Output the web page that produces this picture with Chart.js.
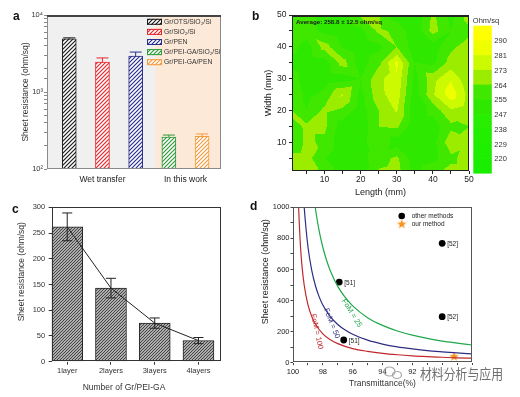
<!DOCTYPE html>
<html>
<head>
<meta charset="utf-8">
<title>Sheet resistance of Gr/PEI-GA films</title>
<script src="https://cdn.jsdelivr.net/npm/chart.js@4.4.1/dist/chart.umd.min.js"></script>
<style>
  html, body { margin: 0; padding: 0; background: #fff; }
  #fig { position: relative; width: 520px; height: 397px; overflow: hidden; background: #fff; }
  #fig canvas { position: absolute; }
  .tag { position: absolute; font: bold 12px "Liberation Sans", Arial, sans-serif; line-height: 12px; color: #111; }
</style>
</head>
<body>
<div id="fig">
  <canvas id="ca" width="260" height="195" style="left:0;top:0"></canvas>
  <canvas id="cb" width="260" height="200" style="left:260px;top:0"></canvas>
  <canvas id="cc" width="260" height="202" style="left:0;top:195px"></canvas>
  <canvas id="cd" width="260" height="202" style="left:260px;top:195px"></canvas>
  <div class="tag" style="left:13px;top:10px">a</div>
  <div class="tag" style="left:252px;top:10px">b</div>
  <div class="tag" style="left:12px;top:203px">c</div>
  <div class="tag" style="left:250px;top:200px">d</div>
</div>
<script>
// ---- data ----
// a: sheet resistance by substrate (log scale)
const aGroups = ['Wet transfer', 'In this work'];
const aLabels = ['Gr/OTS/SiO₂/Si', 'Gr/SiO₂/Si', 'Gr/PEN', 'Gr/PEI-GA/SiO₂/Si', 'Gr/PEI-GA/PEN'];
const aValues = [4900, 2450, 2930, 260, 265];
const aErrors = [150, 320, 370, 16, 20];

// b: sheet resistance map, grid in mm, rows from width 0 to 50
const bX = [0, 5, 10, 15, 20, 25, 30, 35, 40, 45, 50];
const bY = [0, 5, 10, 15, 20, 25, 30, 35, 40, 45, 50];
const bZ = [
  [268, 268, 262, 250, 250, 266, 268, 252, 262, 268, 268],
  [268, 268, 255, 248, 252, 260, 266, 250, 252, 262, 268],
  [255, 266, 262, 248, 250, 264, 250, 248, 252, 270, 266],
  [258, 266, 266, 250, 248, 264, 266, 248, 250, 262, 264],
  [266, 255, 266, 262, 250, 264, 274, 248, 258, 272, 268],
  [268, 252, 258, 274, 252, 270, 278, 250, 272, 286, 270],
  [262, 250, 248, 250, 255, 270, 280, 252, 270, 280, 266],
  [250, 248, 250, 268, 250, 262, 283, 255, 252, 268, 268],
  [260, 250, 268, 254, 248, 252, 264, 250, 250, 262, 268],
  [265, 260, 252, 248, 252, 266, 262, 248, 268, 255, 262],
  [262, 262, 250, 248, 266, 265, 250, 248, 266, 252, 268]
];
const bLevels = [220, 229, 238, 247, 255, 264, 273, 281, 290];

// c: resistance vs number of layers
const cLabels = ['1layer', '2layers', '3layers', '4layers'];
const cValues = [262, 143, 75, 41];
const cErrors = [27, 19, 10, 6];

// d: sheet resistance vs transmittance
const fom100T = [99.65, 99.62, 99.5, 99.4, 99.25, 99.0, 98.75, 98.5, 98.0, 97.5, 97.0, 96.0, 95.0, 94.0, 93.0, 92.0, 91.0, 90.0, 89.0, 88.0];
const fom100R = [1074, 990, 751, 625, 500, 374, 299, 249, 186, 148, 123, 91, 73, 60, 51, 44, 39, 35, 31, 29];
const fom50T = [99.3, 99.25, 99.0, 98.75, 98.5, 98.25, 98.0, 97.5, 97.0, 96.5, 96.0, 95.0, 94.0, 93.0, 92.0, 91.0, 90.0, 89.0, 88.0];
const fom50R = [1072, 1000, 748, 598, 497, 425, 371, 296, 246, 210, 183, 145, 120, 102, 89, 78, 70, 63, 57];
const fom25T = [98.55, 98.5, 98.25, 98.0, 97.75, 97.5, 97.0, 96.5, 96.0, 95.0, 94.0, 93.0, 92.0, 91.0, 90.0, 89.0, 88.0];
const fom25R = [1029, 994, 850, 743, 659, 592, 491, 420, 366, 290, 240, 204, 177, 156, 139, 126, 114];
const otherT = [96.9, 96.6, 90.0, 90.0];
const otherR = [519, 146, 768, 296];
const otherRef = ['[51]', '[51]', '[52]', '[52]'];
const oursT = [89.2];
const oursR = [39];

// ---- styles / helpers ----
const FONT = '"Liberation Sans", Arial, Helvetica, sans-serif';
Chart.defaults.font.family = FONT;
Chart.defaults.color = '#222';
Chart.defaults.animation = false;
Chart.defaults.responsive = false;
Chart.defaults.plugins.legend.display = false;
Chart.defaults.plugins.tooltip.enabled = false;

const aColors = ['#1a1a1a', '#e5262a', '#2a2e8e', '#2e9b3a', '#f59a3c'];
const bColors = [[26,238,0],[30,238,0],[34,238,0],[40,238,0],[46,232,0],[64,232,0],[156,236,0],[204,250,0],[238,255,0],[255,255,0]];
const dRed = '#c0282e', dBlue = '#2d2e83', dGreen = '#1fa84a';

const patCtx = document.createElement('canvas').getContext('2d');
function hatch(color, size, lw) {
  const c = document.createElement('canvas');
  c.width = c.height = size;
  const g = c.getContext('2d');
  g.fillStyle = '#fff';
  g.fillRect(0, 0, size, size);
  g.strokeStyle = color;
  g.lineWidth = lw;
  g.beginPath();
  g.moveTo(0, size); g.lineTo(size, 0);
  g.moveTo(-size / 2, size / 2); g.lineTo(size / 2, -size / 2);
  g.moveTo(size / 2, size * 1.5); g.lineTo(size * 1.5, size / 2);
  g.stroke();
  return patCtx.createPattern(c, 'repeat');
}

function starImage(r, color) {
  const s = Math.ceil(r * 2) + 2;
  const c = document.createElement('canvas');
  c.width = c.height = s;
  const g = c.getContext('2d');
  g.fillStyle = color;
  g.beginPath();
  for (let k = 0; k < 10; k++) {
    const rr = k % 2 ? r * 0.42 : r;
    const ang = -Math.PI / 2 + k * Math.PI / 5;
    g.lineTo(s / 2 + rr * Math.cos(ang), s / 2 + rr * Math.sin(ang));
  }
  g.closePath();
  g.fill();
  return c;
}
const star = starImage(5, '#f7931e');

function makeFrame(color, topColor) {
  return {
    id: 'frame',
    afterDraw(chart) {
      const {ctx, chartArea: a} = chart;
      ctx.save();
      ctx.strokeStyle = color;
      ctx.lineWidth = 1;
      ctx.strokeRect(Math.round(a.left) + 0.5, Math.round(a.top) + 0.5,
                     Math.round(a.right - a.left) - 1, Math.round(a.bottom - a.top) - 1);
      if (topColor) {
        ctx.strokeStyle = topColor;
        ctx.lineWidth = 2;
        ctx.beginPath();
        ctx.moveTo(a.left, Math.round(a.top) + 1);
        ctx.lineTo(a.right, Math.round(a.top) + 1);
        ctx.stroke();
      }
      ctx.restore();
    }
  };
}

function makeErrorBars(cap, lower, color) {
  return {
    id: 'errorBars',
    afterDatasetsDraw(chart) {
      const {ctx} = chart, ys = chart.scales.y;
      chart.data.datasets.forEach((ds, di) => {
        if (!ds.errors) return;
        chart.getDatasetMeta(di).data.forEach((el, i) => {
          const v = ds.data[i].y, e = ds.errors[i];
          const top = ys.getPixelForValue(v + e);
          const bot = ys.getPixelForValue(lower ? v - e : v);
          ctx.save();
          ctx.strokeStyle = color || ds.borderColor[i];
          ctx.lineWidth = 1;
          ctx.beginPath();
          ctx.moveTo(el.x, top); ctx.lineTo(el.x, bot);
          ctx.moveTo(el.x - cap / 2, top); ctx.lineTo(el.x + cap / 2, top);
          if (lower) { ctx.moveTo(el.x - cap / 2, bot); ctx.lineTo(el.x + cap / 2, bot); }
          ctx.stroke();
          ctx.restore();
        });
      });
    }
  };
}

function makeTexts(items) {
  return {
    id: 'texts',
    afterDraw(chart) {
      const ctx = chart.ctx;
      items.forEach(t => {
        ctx.save();
        ctx.translate(t.x, t.y);
        ctx.rotate((t.rot || 0) * Math.PI / 180);
        ctx.font = t.font;
        ctx.fillStyle = t.color || '#222';
        ctx.textAlign = t.align || 'center';
        ctx.textBaseline = 'middle';
        ctx.fillText(t.text, 0, 0);
        ctx.restore();
      });
    }
  };
}

const tickMarks = (color, len) => ({ display: true, drawOnChartArea: false, drawTicks: true, tickLength: len, color: color, offset: false });

// ---- a ----
const aBackground = {
  id: 'aBackground',
  beforeDatasetsDraw(chart) {
    const {ctx, chartArea: a, scales: {x}} = chart;
    const split = x.getPixelForValue(3.58);
    ctx.save();
    ctx.fillStyle = '#f0f0f0';
    ctx.fillRect(a.left, a.top, split - a.left, a.bottom - a.top);
    ctx.fillStyle = '#fde9d8';
    ctx.fillRect(split, a.top, a.right - split, a.bottom - a.top);
    ctx.restore();
  }
};
const aLegend = {
  id: 'aLegend',
  afterDatasetsDraw(chart) {
    const {ctx, chartArea: a} = chart;
    const ds = chart.data.datasets[0];
    ctx.save();
    ctx.font = '6.8px ' + FONT;
    ctx.textBaseline = 'middle';
    aLabels.forEach((lab, i) => {
      const y = a.top + 6.8 + i * 10.1;
      const x = a.right - 74;
      ctx.fillStyle = ds.backgroundColor[i];
      ctx.fillRect(x, y - 3, 15, 6);
      ctx.strokeStyle = ds.borderColor[i];
      ctx.lineWidth = 1;
      ctx.strokeRect(x + 0.5, y - 2.5, 14, 5);
      ctx.fillStyle = '#333';
      ctx.fillText(lab, x + 17, y);
    });
    ctx.restore();
  }
};
const supers = {2: '²', 3: '³', 4: '⁴'};
new Chart(document.getElementById('ca'), {
  type: 'bar',
  data: {
    datasets: [{
      data: aValues.map((v, i) => ({x: i + 1, y: v})),
      backgroundColor: aColors.map(c => hatch(c, 4, 1.2)),
      borderColor: aColors,
      borderWidth: 1,
      barThickness: 14,
      errors: aErrors
    }]
  },
  options: {
    layout: {padding: {left: 0, top: 15, right: 39, bottom: 0}},
    scales: {
      x: {
        type: 'linear', min: 0.33, max: 5.57, offset: false,
        afterFit: s => { s.height = 26; },
        afterBuildTicks: s => { s.ticks = [{value: 2}, {value: 4.5}]; },
        ticks: {callback: (v, i) => aGroups[i], font: {size: 8.5}, padding: 6, autoSkip: false, maxRotation: 0, color: '#222'},
        grid: {display: false, drawTicks: false}, border: {display: false}
      },
      y: {
        type: 'logarithmic', min: 100, max: 10000,
        afterFit: s => { s.width = 47; },
        ticks: {
          autoSkip: false, font: {size: 7.5}, padding: 1, color: '#333',
          callback: v => {
            const p = Math.log10(v);
            return Math.abs(p - Math.round(p)) < 1e-6 ? '10' + supers[Math.round(p)] : '';
          }
        },
        grid: tickMarks('#888', 3), border: {display: false},
        title: {display: true, text: 'Sheet resistance (ohm/sq)', font: {size: 8.5}, color: '#333', padding: {top: 21, bottom: 0}}
      }
    }
  },
  plugins: [aBackground, makeErrorBars(12, false), aLegend, makeFrame('#8a8a8a', '#444')]
});

// ---- b ----
function sampleGrid(vx, vy) {
  let i = 0, j = 0;
  while (i < bX.length - 2 && vx > bX[i + 1]) i++;
  while (j < bY.length - 2 && vy > bY[j + 1]) j++;
  const fx = (vx - bX[i]) / (bX[i + 1] - bX[i]);
  const fy = (vy - bY[j]) / (bY[j + 1] - bY[j]);
  const z00 = bZ[j][i], z10 = bZ[j][i + 1], z01 = bZ[j + 1][i], z11 = bZ[j + 1][i + 1];
  if ((i + j) % 2 === 0) {
    if (fx >= fy) return z00 + fx * (z10 - z00) + fy * (z11 - z10);
    return z00 + fy * (z01 - z00) + fx * (z11 - z01);
  }
  if (fx + fy <= 1) return z00 + fx * (z10 - z00) + fy * (z01 - z00);
  return z11 + (1 - fx) * (z01 - z11) + (1 - fy) * (z10 - z11);
}
const contour = {
  id: 'contour',
  beforeDatasetsDraw(chart) {
    const {ctx, chartArea: a, scales: {x, y}} = chart;
    const w = Math.round(a.right - a.left), h = Math.round(a.bottom - a.top);
    const off = document.createElement('canvas');
    off.width = w; off.height = h;
    const g = off.getContext('2d');
    const img = g.createImageData(w, h);
    for (let py = 0; py < h; py++) {
      const vy = y.getValueForPixel(a.top + py + 0.5);
      for (let px = 0; px < w; px++) {
        const vx = x.getValueForPixel(a.left + px + 0.5);
        const v = sampleGrid(vx, vy);
        let band = 0;
        while (band < bLevels.length && v >= bLevels[band]) band++;
        const c = bColors[band], k = (py * w + px) * 4;
        img.data[k] = c[0]; img.data[k + 1] = c[1]; img.data[k + 2] = c[2]; img.data[k + 3] = 255;
      }
    }
    g.putImageData(img, 0, 0);
    ctx.drawImage(off, a.left, a.top);
  }
};
const colorBar = {
  id: 'colorBar',
  afterDraw(chart) {
    const {ctx, chartArea: a} = chart;
    const x0 = a.right + 4.3, w = 18.5, top = a.top + 10.7, h = 147.3, n = bColors.length;
    ctx.save();
    for (let k = 0; k < n; k++) {
      const c = bColors[n - 1 - k];
      ctx.fillStyle = 'rgb(' + c.join(',') + ')';
      ctx.fillRect(x0, top + k * h / n, w, h / n + 0.6);
    }
    ctx.font = '7.5px ' + FONT;
    ctx.fillStyle = '#333';
    ctx.textBaseline = 'middle';
    for (let k = 0; k < bLevels.length; k++) {
      ctx.fillText(String(bLevels[bLevels.length - 1 - k]), x0 + 21, top + (k + 1) * h / n + 1);
    }
    ctx.fillText('Ohm/sq', x0 - 0.5, a.top + 6);
    ctx.restore();
  }
};
new Chart(document.getElementById('cb'), {
  type: 'scatter',
  data: {
    datasets: [{
      data: bY.flatMap((yv, j) => bX.map((xv, i) => ({x: xv, y: yv, v: bZ[j][i]}))),
      pointRadius: 0
    }]
  },
  options: {
    layout: {padding: {left: 0, top: 15, right: 51, bottom: 0}},
    scales: {
      x: {
        type: 'linear', min: 1, max: 50,
        afterFit: s => { s.height = 29; },
        afterBuildTicks: s => { s.ticks = [5, 10, 15, 20, 25, 30, 35, 40, 45, 50].map(v => ({value: v})); },
        ticks: {callback: v => (v % 10 === 0 ? v : ''), font: {size: 8.5}, padding: 1, autoSkip: false, maxRotation: 0, color: '#222'},
        grid: tickMarks('#222', 3), border: {display: false},
        title: {display: true, text: 'Length (mm)', font: {size: 9}, padding: {top: 0, bottom: 2}}
      },
      y: {
        type: 'linear', min: 1, max: 50,
        afterFit: s => { s.width = 32; },
        afterBuildTicks: s => { s.ticks = [5, 10, 15, 20, 25, 30, 35, 40, 45, 50].map(v => ({value: v})); },
        ticks: {callback: v => (v % 10 === 0 ? v : ''), font: {size: 8.5}, padding: 2.5, autoSkip: false, color: '#222'},
        grid: tickMarks('#222', 3), border: {display: false},
        title: {display: true, text: 'Width (mm)', font: {size: 9}, padding: {top: 3.5, bottom: 0}}
      }
    }
  },
  plugins: [contour, makeTexts([{text: 'Average: 258.8 ± 12.5 ohm/sq', x: 36, y: 22.5, font: 'bold 6.2px ' + FONT, align: 'left', color: '#1a1a1a'}]),
            makeFrame('#222', '#222'), colorBar]
});

// ---- c ----
const cPoints = cValues.map((v, i) => ({x: i, y: v}));
new Chart(document.getElementById('cc'), {
  type: 'bar',
  data: {
    datasets: [
      {type: 'line', data: cPoints, borderColor: '#222', borderWidth: 1, pointRadius: 0, order: 0},
      {type: 'bar', data: cPoints, backgroundColor: hatch('#444', 3, 1.25), borderColor: '#222', borderWidth: 1, barThickness: 31, errors: cErrors, order: 1}
    ]
  },
  options: {
    layout: {padding: {left: 0, top: 12.3, right: 39, bottom: 0}},
    scales: {
      x: {
        type: 'linear', min: -0.355, max: 3.515, offset: false,
        afterFit: s => { s.height = 35.3; },
        afterBuildTicks: s => { s.ticks = [0, 1, 2, 3].map(v => ({value: v})); },
        ticks: {callback: v => cLabels[v], font: {size: 7.5}, padding: 1.5, autoSkip: false, maxRotation: 0, color: '#333'},
        grid: tickMarks('#333', 3), border: {display: false}
      },
      y: {
        type: 'linear', min: 0, max: 300,
        afterFit: s => { s.width = 51.7; },
        ticks: {stepSize: 50, font: {size: 7.5}, padding: 3.5, color: '#333'},
        grid: tickMarks('#333', 3), border: {display: false}
      }
    }
  },
  plugins: [makeErrorBars(10, true, '#222'), makeFrame('#333'),
            makeTexts([
              {text: 'Sheet resistance (ohm/sq)', x: 21.5, y: 76.7, rot: -90, font: '8.5px ' + FONT, color: '#333'},
              {text: 'Number of Gr/PEI-GA', x: 124, y: 193, font: '8.5px ' + FONT, color: '#333'}
            ])]
});

// ---- d ----
const dExtras = {
  id: 'dExtras',
  afterDatasetsDraw(chart) {
    const {ctx, chartArea: a, scales: {x, y}} = chart;
    ctx.save();
    ctx.textBaseline = 'middle';
    ctx.font = '6.5px ' + FONT;
    ctx.fillStyle = '#222';
    otherRef.forEach((t, i) => {
      ctx.fillText(t, x.getPixelForValue(otherT[i]) + 5, y.getPixelForValue(otherR[i]) + 1);
    });
    [['FoM = 25', 96.06, 318, 58, dGreen], ['FoM = 50', 97.4, 253, 68, dBlue], ['FoM = 100', 98.4, 200, 78, dRed]].forEach(l => {
      ctx.save();
      ctx.translate(x.getPixelForValue(l[1]), y.getPixelForValue(l[2]));
      ctx.rotate(l[3] * Math.PI / 180);
      ctx.font = '7.5px ' + FONT;
      ctx.fillStyle = l[4];
      ctx.textAlign = 'center';
      ctx.fillText(l[0], 0, 0);
      ctx.restore();
    });
    const lx = a.right - 70.3;
    ctx.fillStyle = '#000';
    ctx.beginPath();
    ctx.arc(lx, a.top + 8.7, 3.3, 0, Math.PI * 2);
    ctx.fill();
    ctx.drawImage(star, lx - star.width / 2, a.top + 17 - star.height / 2);
    ctx.fillStyle = '#222';
    ctx.font = '6.5px ' + FONT;
    ctx.fillText('other methods', lx + 10, a.top + 8.7);
    ctx.fillText('our method', lx + 10, a.top + 17);
    ctx.restore();
  }
};
// watermark over the lower right corner
const watermark = {
  id: 'watermark',
  afterDraw(chart) {
    const ctx = chart.ctx;
    ctx.save();
    ctx.fillStyle = 'rgba(255,255,255,0.85)';
    ctx.fillRect(159, 170, 84, 17);
    ctx.strokeStyle = '#a8a8a8';
    ctx.lineWidth = 1.2;
    ctx.beginPath();
    ctx.ellipse(129.5, 176.5, 5.5, 4.5, 0, 0, Math.PI * 2);
    ctx.stroke();
    ctx.beginPath();
    ctx.ellipse(137, 180, 4.5, 3.5, 0, 0, Math.PI * 2);
    ctx.stroke();
    ctx.font = '14px "Noto Sans CJK SC", sans-serif';
    ctx.fillStyle = '#6e6e6e';
    ctx.textBaseline = 'middle';
    ctx.fillText('材料分析与应用', 160, 178.5, 83);
    ctx.restore();
  }
};
const curve = (T, R, color) => ({
  data: T.map((t, i) => ({x: t, y: R[i]})),
  showLine: true, borderColor: color, borderWidth: 1.2, pointRadius: 0,
  cubicInterpolationMode: 'monotone', clip: 0
});
new Chart(document.getElementById('cd'), {
  type: 'scatter',
  data: {
    datasets: [
      curve(fom100T, fom100R, dRed),
      curve(fom50T, fom50R, dBlue),
      curve(fom25T, fom25R, dGreen),
      {data: otherT.map((t, i) => ({x: t, y: otherR[i]})), backgroundColor: '#000', borderWidth: 0, pointRadius: 3.4},
      {data: oursT.map((t, i) => ({x: t, y: oursR[i]})), pointStyle: star, pointRadius: 5}
    ]
  },
  options: {
    layout: {padding: {left: 0, top: 12.3, right: 48, bottom: 0}},
    scales: {
      x: {
        type: 'linear', min: 88, max: 100, reverse: true,
        afterFit: s => { s.height = 34.3; },
        afterBuildTicks: s => { s.ticks = [88, 89, 90, 91, 92, 93, 94, 95, 96, 97, 98, 99, 100].map(v => ({value: v})); },
        ticks: {callback: v => (v % 2 === 0 ? v : ''), font: {size: 7.5}, padding: 2.5, autoSkip: false, maxRotation: 0, color: '#222'},
        grid: tickMarks('#444', 2.5), border: {display: false}
      },
      y: {
        type: 'linear', min: 0, max: 1000,
        afterFit: s => { s.width = 33; },
        afterBuildTicks: s => { s.ticks = [0, 100, 200, 300, 400, 500, 600, 700, 800, 900, 1000].map(v => ({value: v})); },
        ticks: {callback: v => (v % 200 === 0 ? v : ''), font: {size: 7.5}, padding: 1, autoSkip: false, color: '#222'},
        grid: tickMarks('#444', 2.5), border: {display: false}
      }
    }
  },
  plugins: [dExtras, makeFrame('#555'),
            makeTexts([
              {text: 'Sheet resistance (ohm/sq)', x: 6, y: 76.7, rot: -90, font: '9px ' + FONT, color: '#222'},
              {text: 'Transmittance(%)', x: 122.5, y: 188.3, font: '8.5px ' + FONT, color: '#333'}
            ]), watermark]
});
</script>
</body>
</html>
